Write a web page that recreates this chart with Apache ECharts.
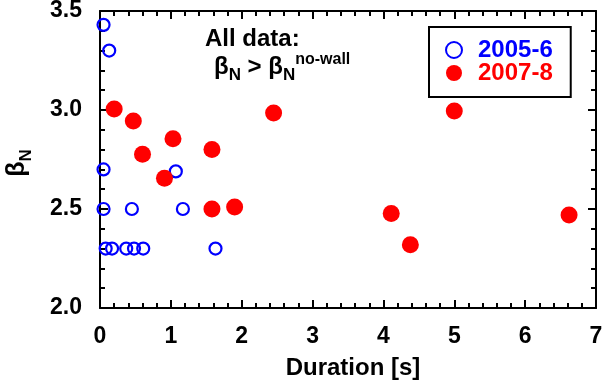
<!DOCTYPE html>
<html>
<head>
<meta charset="utf-8">
<script src="https://cdn.jsdelivr.net/npm/echarts@6/dist/echarts.min.js"></script>
<style>html,body{margin:0;padding:0;background:#fff}#c{width:604px;height:386px}</style>
</head>
<body>
<div id="c"></div>
<script>
// Data
const seriesNames = ['2005-6', '2007-8'];
const blueX = [0.05, 0.13, 0.05, 0.05, 0.45, 1.17, 1.07, 0.08, 0.17, 0.37, 0.48, 0.61, 1.63];
const blueY = [3.43, 3.30, 2.70, 2.50, 2.50, 2.50, 2.69, 2.30, 2.30, 2.30, 2.30, 2.30, 2.30];
const redX = [0.20, 0.47, 0.60, 1.03, 0.91, 1.58, 1.58, 1.90, 2.45, 4.11, 4.38, 5.00, 6.62];
const redY = [3.005, 2.945, 2.777, 2.855, 2.655, 2.80, 2.50, 2.51, 2.985, 2.477, 2.32, 2.995, 2.47];
const xTicks = [0, 1, 2, 3, 4, 5, 6, 7];
const yTicks = ['2.0', '2.5', '3.0', '3.5'];

const FONT = 'Liberation Sans';
const zip = (xs, ys) => xs.map((x, i) => [x, ys[i]]);

const axisCommon = {
  axisLine: { show: true, onZero: false, lineStyle: { color: '#000', width: 2 } },
  axisTick: { show: true, inside: true, length: 8, lineStyle: { color: '#000', width: 2 } },
  minorTick: { show: true, splitNumber: 5, length: 5, lineStyle: { color: '#000', width: 2 } },
  splitLine: { show: false },
  minorSplitLine: { show: false }
};

const chart = echarts.init(document.getElementById('c'), null, { renderer: 'canvas' });
chart.setOption({
  animation: false,
  backgroundColor: '#fff',
  grid: { left: 100, right: 8, top: 11, bottom: 78, outerBoundsMode: 'none', containLabel: false },
  xAxis: [
    Object.assign({
      type: 'value', position: 'bottom', min: xTicks[0], max: xTicks[xTicks.length - 1], interval: 1,
      axisLabel: { show: true, margin: 17, color: '#000', fontFamily: FONT, fontWeight: 'bold', fontSize: 23,
        formatter: v => String(v) }
    }, axisCommon),
    Object.assign({
      type: 'value', position: 'top', min: xTicks[0], max: xTicks[xTicks.length - 1], interval: 1,
      axisLabel: { show: false }
    }, axisCommon)
  ],
  yAxis: [
    Object.assign({
      type: 'value', position: 'left', min: +yTicks[0], max: +yTicks[yTicks.length - 1], interval: 0.5,
      axisLabel: { show: true, margin: 18, color: '#000', fontFamily: FONT, fontWeight: 'bold', fontSize: 23,
        formatter: v => v.toFixed(1) }
    }, axisCommon),
    Object.assign({
      type: 'value', position: 'right', min: +yTicks[0], max: +yTicks[yTicks.length - 1], interval: 0.5,
      axisLabel: { show: false }
    }, axisCommon)
  ],
  legend: {
    orient: 'vertical', left: 429, top: 27,
    padding: [11, 18, 12, 16], itemGap: -1,
    itemWidth: 38, itemHeight: 16,
    borderColor: '#000', borderWidth: 2, borderRadius: 0,
    textStyle: { fontFamily: FONT, fontWeight: 'bold', fontSize: 24 },
    data: [
      { name: seriesNames[0], textStyle: { color: '#0000ff' } },
      { name: seriesNames[1], textStyle: { color: '#ff0000' } }
    ]
  },
  series: [
    {
      name: seriesNames[0], type: 'scatter', symbol: 'circle', symbolSize: 12,
      itemStyle: { color: 'rgba(0,0,0,0)', borderColor: '#0000ff', borderWidth: 2.2, opacity: 1 },
      data: zip(blueX, blueY), z: 2
    },
    {
      name: seriesNames[1], type: 'scatter', symbol: 'circle', symbolSize: 17,
      itemStyle: { color: '#ff0000', opacity: 1 },
      data: zip(redX, redY), z: 3
    }
  ],
  graphic: [
    {
      type: 'text', left: 205, top: 27,
      style: { text: 'All data:', fill: '#000', font: 'bold 24px "Liberation Sans"' }
    },
    {
      type: 'text', left: 214, top: 52,
      style: {
        text: '{b|β}{s|N}{b| > β}{s|N}{p|no-wall}',
        rich: {
          b: { fontFamily: FONT, fontWeight: 'bold', fontSize: 24, color: '#000', lineHeight: 32, verticalAlign: 'bottom', padding: [0, 0, 5, 0] },
          s: { fontFamily: FONT, fontWeight: 'bold', fontSize: 17, color: '#000', lineHeight: 32, verticalAlign: 'bottom', padding: [0, 0, 0, 0] },
          p: { fontFamily: FONT, fontWeight: 'bold', fontSize: 16, color: '#000', lineHeight: 32, verticalAlign: 'top', padding: [0, 0, 0, 0] }
        }
      }
    },
    {
      type: 'text', x: 20, y: 163, rotation: Math.PI / 2,
      style: {
        text: '{b|β}{s|N}', align: 'center', verticalAlign: 'middle',
        rich: {
          b: { fontFamily: FONT, fontWeight: 'bold', fontSize: 25, color: '#000', lineHeight: 30, verticalAlign: 'bottom', padding: [0, 0, 5, 0] },
          s: { fontFamily: FONT, fontWeight: 'bold', fontSize: 17, color: '#000', lineHeight: 30, verticalAlign: 'bottom' }
        }
      }
    },
    {
      type: 'text', x: 353, y: 368,
      style: { text: 'Duration [s]', align: 'center', verticalAlign: 'middle', fill: '#000', font: 'bold 24px "Liberation Sans"' }
    }
  ]
});
</script>
</body>
</html>
